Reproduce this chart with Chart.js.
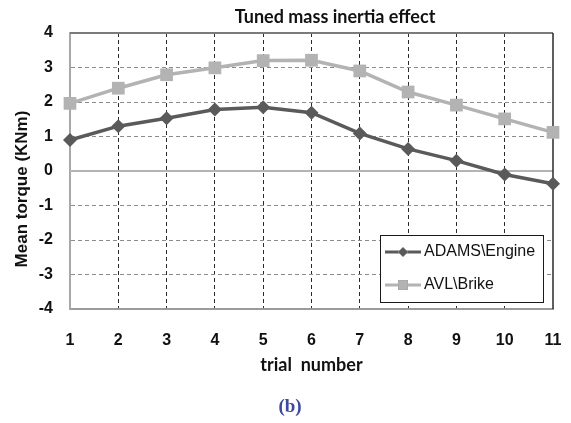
<!DOCTYPE html>
<html>
<head>
<meta charset="utf-8">
<title>Tuned mass inertia effect</title>
<script src="https://cdn.jsdelivr.net/npm/chart.js@4/dist/chart.umd.min.js"></script>
<style>
  html, body { margin: 0; padding: 0; background: #fff; }
  #wrap { width: 571px; height: 423px; position: relative; }
</style>
</head>
<body>
<div id="wrap"><canvas id="torqueChart"></canvas></div>
<script>
// data
const trialLabels = ['1', '2', '3', '4', '5', '6', '7', '8', '9', '10', '11'];
const engineTorque = [0.9, 1.3, 1.53, 1.78, 1.85, 1.69, 1.09, 0.64, 0.3, -0.1, -0.37];
const brikeTorque = [1.96, 2.4, 2.79, 2.99, 3.2, 3.21, 2.9, 2.29, 1.91, 1.51, 1.12];
const seriesNames = ['ADAMS\\Engine', 'AVL\\Brike'];

const tickFont = { family: "'Liberation Sans Narrow', 'Liberation Sans', Arial, sans-serif", size: 16, weight: 'bold' };

// extra texts, frame lines and the legend box
const decorPlugin = {
  id: 'decor',
  beforeDatasetsDraw(chart) {
    const ctx = chart.ctx;
    const area = chart.chartArea;
    const y0 = chart.scales.y.getPixelForValue(0);
    ctx.save();
    // zero line
    ctx.strokeStyle = '#b4b4b4';
    ctx.lineWidth = 2;
    ctx.beginPath();
    ctx.moveTo(area.left, y0);
    ctx.lineTo(area.right, y0);
    ctx.stroke();
    // top + right frame
    ctx.strokeStyle = '#7a7a7a';
    ctx.lineWidth = 2;
    ctx.beginPath();
    ctx.moveTo(area.left, area.top);
    ctx.lineTo(area.right, area.top);
    ctx.stroke();
    ctx.strokeStyle = '#2a2a2a';
    ctx.lineWidth = 1.5;
    ctx.beginPath();
    ctx.moveTo(area.right, area.top);
    ctx.lineTo(area.right, area.bottom);
    ctx.stroke();
    ctx.restore();
  },
  afterDraw(chart) {
    const ctx = chart.ctx;
    ctx.save();
    // chart title
    ctx.fillStyle = '#111';
    ctx.textAlign = 'center';
    ctx.textBaseline = 'middle';
    ctx.font = "bold 18px Lato, 'Open Sans', sans-serif";
    ctx.fillText('Tuned mass inertia effect', 335, 17);
    // y axis title
    ctx.save();
    ctx.translate(22, 189);
    ctx.rotate(-Math.PI / 2);
    ctx.font = "bold 17px 'Liberation Sans', Arial, sans-serif";
    ctx.fillText('Mean torque (KNm)', 0, 0);
    ctx.restore();
    // figure tag
    ctx.fillStyle = '#3b4a9c';
    ctx.font = "bold 19px 'Liberation Serif', 'DejaVu Serif', serif";
    ctx.fillText('(b)', 290, 407);

    // legend box
    const bx = 380, by = 235, bw = 163, bh = 67;
    ctx.fillStyle = '#fff';
    ctx.fillRect(bx, by, bw, bh);
    ctx.strokeStyle = '#1a1a1a';
    ctx.lineWidth = 1;
    ctx.strokeRect(bx + 0.5, by + 0.5, bw, bh);
    const rows = [252, 285];
    chart.data.datasets.forEach((ds, i) => {
      const ry = rows[i];
      ctx.strokeStyle = ds.borderColor;
      ctx.lineWidth = 3;
      ctx.beginPath();
      ctx.moveTo(385, ry);
      ctx.lineTo(421, ry);
      ctx.stroke();
      Chart.helpers.drawPoint(ctx, {
        pointStyle: ds.pointStyle,
        radius: ds.pointStyle === 'rect' ? 7 : 5,
        borderWidth: 0,
        rotation: 0
      }, 403, ry);
      ctx.fillStyle = ds.pointBackgroundColor;
      ctx.fill();
      ctx.fillStyle = '#111';
      ctx.textAlign = 'left';
      ctx.font = "16px 'Liberation Sans', Arial, sans-serif";
      ctx.fillText(ds.label, 424, ry);
    });
    ctx.restore();
  }
};

const ctx = document.getElementById('torqueChart').getContext('2d');
const torqueChart = new Chart(ctx, {
  type: 'line',
  data: {
    labels: trialLabels,
    datasets: [
      {
        label: seriesNames[0],
        data: engineTorque,
        borderColor: '#5a5a5a',
        backgroundColor: '#5a5a5a',
        pointBackgroundColor: '#5a5a5a',
        pointBorderColor: '#5a5a5a',
        borderWidth: 3.5,
        pointStyle: 'rectRot',
        pointRadius: 7,
        pointBorderWidth: 0,
        tension: 0
      },
      {
        label: seriesNames[1],
        data: brikeTorque,
        borderColor: '#b3b3b3',
        backgroundColor: '#b3b3b3',
        pointBackgroundColor: '#b3b3b3',
        pointBorderColor: '#b3b3b3',
        borderWidth: 3.5,
        pointStyle: 'rect',
        pointRadius: 9,
        pointBorderWidth: 0,
        tension: 0
      }
    ]
  },
  options: {
    responsive: true,
    maintainAspectRatio: false,
    animation: false,
    events: [],
    layout: { padding: { left: 0, right: 18, top: 33, bottom: 44 } },
    plugins: {
      legend: { display: false },
      title: { display: false },
      tooltip: { enabled: false }
    },
    scales: {
      x: {
        type: 'category',
        offset: false,
        grid: {
          offset: false,
          drawTicks: false,
          lineWidth: 1,
          color: (c) => (c.index === 0 || c.index === trialLabels.length - 1) ? 'rgba(0,0,0,0)' : '#2b2b2b'
        },
        border: { display: true, color: '#9a9a9a', width: 2, dash: [4, 3] },
        ticks: { color: '#111', font: tickFont, padding: 22, maxRotation: 0, autoSkip: false },
        title: {
          display: true,
          text: 'trial  number',
          color: '#111',
          font: { family: "Lato, 'Open Sans', sans-serif", size: 18, weight: 'bold' },
          padding: { top: 0, bottom: 3 }
        },
        afterFit(scale) {
          scale.height = 70;
          // tick padding is vertical here, keep it out of the side padding
          scale.paddingLeft = 0;
          scale.paddingRight = 0;
        }
      },
      y: {
        min: -4,
        max: 4,
        ticks: { stepSize: 1, color: '#111', font: tickFont, padding: 17 },
        grid: {
          drawTicks: false,
          lineWidth: 1,
          color: (c) => (c.tick && (c.tick.value === 0 || c.tick.value === 4 || c.tick.value === -4)) ? 'rgba(0,0,0,0)' : '#8c8c8c'
        },
        border: { display: true, color: '#a8a8a8', width: 2, dash: [4, 3] },
        afterFit(scale) { scale.width = 70; }
      }
    }
  },
  plugins: [decorPlugin]
});
</script>
</body>
</html>
